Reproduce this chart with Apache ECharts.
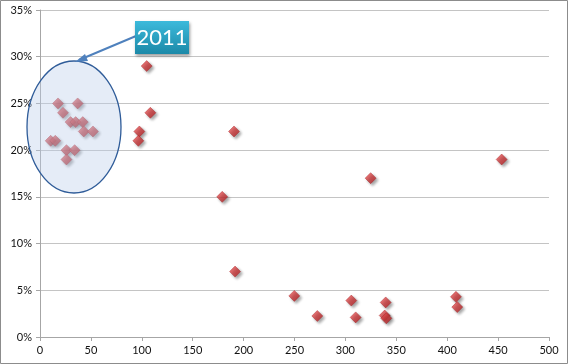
<!DOCTYPE html>
<html><head><meta charset="utf-8">
<script src="https://cdn.jsdelivr.net/npm/echarts@6/dist/echarts.min.js"></script>
<style>html,body{margin:0;padding:0;background:#fff}#c{width:568px;height:364px}</style>
</head><body><div id="c"></div>
<script>
// x values and y values (percent) of each point
var xValues = [17.7, 37, 22.6, 30, 35, 42, 43, 52, 10.5, 15, 26, 34, 26,
               104.8, 108.4, 97.6, 96.6, 190.6, 179, 324.8, 191.6,
               249.8, 272.4, 305.8, 310.1, 453.5, 339.6, 338.6, 340.2, 408.6, 409.9];
var yValues = [25, 25, 24, 23, 23, 23, 22, 22, 21, 21, 20, 20, 19,
               29, 24, 22, 21, 22, 15, 17, 7,
               4.4, 2.25, 3.9, 2.1, 19, 3.7, 2.3, 2.0, 4.3, 3.2];
var xTicks = [0, 50, 100, 150, 200, 250, 300, 350, 400, 450, 500];
var yTicks = [0, 5, 10, 15, 20, 25, 30, 35];
var annotationText = '2011';

var points = xValues.map(function (x, i) { return [x, yValues[i]]; });
var chart = echarts.init(document.getElementById('c'));
var font = 'Lato, "Open Sans", sans-serif';
chart.setOption({
  animation: false,
  grid: {left: 40, right: 19, top: 10, bottom: 27, containLabel: false},
  xAxis: {
    type: 'value', min: xTicks[0], max: xTicks[xTicks.length - 1], interval: 50,
    axisLine: {show: true, lineStyle: {color: '#a6a6a6'}},
    axisTick: {show: true, length: 4, lineStyle: {color: '#a6a6a6'}},
    splitLine: {show: false},
    axisLabel: {color: '#111', fontSize: 11, fontFamily: font, margin: 8}
  },
  yAxis: {
    type: 'value', min: yTicks[0], max: yTicks[yTicks.length - 1], interval: 5,
    axisLine: {show: true, lineStyle: {color: '#a6a6a6'}},
    axisTick: {show: true, length: 4, lineStyle: {color: '#a6a6a6'}},
    splitLine: {show: true, lineStyle: {color: '#c4c4c4', width: 1}},
    axisLabel: {color: '#111', fontSize: 11, fontFamily: font, margin: 8,
      formatter: function (v) { return v + '%'; }}
  },
  series: [{
    type: 'scatter', data: points, symbol: 'diamond', symbolSize: 11,
    itemStyle: {
      color: new echarts.graphic.LinearGradient(0, 0, 1, 1, [
        {offset: 0, color: '#ec5b5b'}, {offset: 1, color: '#b01a1e'}]),
      borderColor: '#a51a1d', borderWidth: 0.5,
      shadowColor: 'rgba(0,0,0,0.45)', shadowBlur: 3, shadowOffsetX: 2, shadowOffsetY: 2
    },
    z: 2
  }],
  graphic: [
    {type: 'rect', shape: {x: 0.5, y: 0.5, width: 567, height: 363},
     style: {fill: 'none', stroke: '#8c8c8c', lineWidth: 1}, z: 100},
    {type: 'ellipse', shape: {cx: 74, cy: 127, rx: 47, ry: 66},
     style: {fill: 'rgba(190,208,234,0.4)', stroke: '#2f5c99', lineWidth: 1.3}, z: 50},
    {type: 'line', shape: {x1: 136, y1: 36, x2: 79, y2: 60},
     style: {stroke: '#4f81bd', lineWidth: 2}, z: 50},
    {type: 'polygon', shape: {points: [[75, 62], [85, 54], [88, 61]]},
     style: {fill: '#4f81bd'}, z: 50},
    {type: 'rect', shape: {x: 135, y: 21, width: 54, height: 33},
     style: {fill: new echarts.graphic.LinearGradient(0, 0, 0, 1, [
        {offset: 0, color: '#3cbadb'}, {offset: 1, color: '#1c89a8'}]),
       shadowColor: 'rgba(0,0,0,0.4)', shadowBlur: 3, shadowOffsetX: 1, shadowOffsetY: 2}, z: 60},
    {type: 'text', x: 162, y: 38, z: 61,
     style: {text: annotationText, fill: '#fff', fontSize: 22, fontFamily: font,
       textAlign: 'center', textVerticalAlign: 'middle'}}
  ]
});
</script></body></html>
